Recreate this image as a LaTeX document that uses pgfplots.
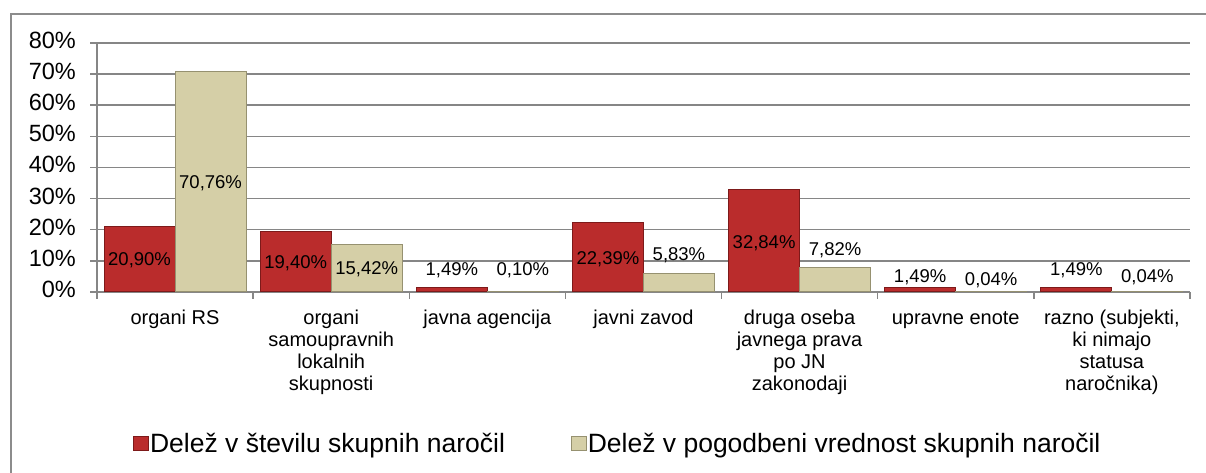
\documentclass[border=0pt]{standalone}
\usepackage{pgfplots}
\pgfplotsset{compat=1.18}
\usepackage{fontspec}
\setmainfont{Liberation Sans}
\definecolor{gridgray}{RGB}{134,134,134}
\definecolor{barred}{RGB}{186,44,44}
\definecolor{barreddark}{RGB}{125,26,26}
\definecolor{barbeige}{RGB}{213,207,167}
\definecolor{barbeigedark}{RGB}{150,145,112}
\definecolor{bordergray}{RGB}{140,140,140}
\pgfplotsset{sqlegend/.style={legend image code/.code={\draw[##1,line width=0.8pt] (0pt,-7pt) rectangle (15pt,7pt);}}}
\begin{document}
\begin{tikzpicture}
\useasboundingbox (0,0) rectangle (1206pt,473pt);
\draw[bordergray, line width=1.5pt] (11pt,0) -- (11pt,459pt) -- (1206pt,459pt);
\begin{axis}[
  at={(97pt,181pt)}, anchor=south west,
  scale only axis, width=1093pt, height=249pt,
  xmin=-0.5, xmax=6.5, ymin=0, ymax=80,
  ybar=0pt, bar width=71pt,
  axis x line*=bottom, axis y line*=left,
  axis line style={-, draw=gridgray, line width=1.5pt},
  ytick={0,10,...,80},
  yticklabels={0\%,10\%,20\%,30\%,40\%,50\%,60\%,70\%,80\%},
  ymajorgrids, grid style={gridgray, line width=1.5pt},
  tick style={gridgray, line width=1.5pt},
  tick align=outside, major tick length=7pt,
  xtick={-0.5,0.5,...,6.5},
  x tick label as interval,
  xticklabels={organi RS,{organi\\samoupravnih\\lokalnih\\skupnosti},javna agencija,javni zavod,{druga oseba\\javnega prava\\po JN\\zakonodaji},upravne enote,{razno (subjekti,\\ki nimajo\\statusa\\naročnika)}},
  typeset ticklabels with strut,
  xticklabel style={font=\fontsize{20}{22}\selectfont, align=center, anchor=north, inner sep=0pt, yshift=-10pt},
  yticklabel style={font=\fontsize{23.5}{27}\selectfont, anchor=east, inner sep=0pt, xshift=-14pt},
  legend columns=2,
  legend cell align=left,
  legend style={draw=none, fill=none, at={(0.033,-0.61)}, anchor=west,
    font=\fontsize{26.5}{31}\selectfont, inner sep=0pt,
    nodes={inner sep=1pt},
    /tikz/every even column/.append style={column sep=65pt}},
]
\addplot[fill=barred, draw=barreddark, line width=1pt, sqlegend] coordinates {(0,20.90) (1,19.40) (2,1.49) (3,22.39) (4,32.84) (5,1.49) (6,1.49)};
\addplot[fill=barbeige, draw=barbeigedark, line width=1pt, sqlegend] coordinates {(0,70.76) (1,15.42) (2,0.10) (3,5.83) (4,7.82) (5,0.04) (6,0.04)};
\legend{Delež v številu skupnih naročil, Delež v pogodbeni vrednost skupnih naročil}
\begin{scope}[every node/.style={font=\fontsize{18.5}{21}\selectfont}]
\node[xshift=-35.5pt] at (axis cs:0,10.3) {20,90\%};
\node[xshift=35.5pt] at (axis cs:0,35.0) {70,76\%};
\node[xshift=-35.5pt] at (axis cs:1,9.3) {19,40\%};
\node[xshift=35.5pt] at (axis cs:1,7.4) {15,42\%};
\node[xshift=-35.5pt] at (axis cs:2,7.1) {1,49\%};
\node[xshift=35.5pt] at (axis cs:2,7.1) {0,10\%};
\node[xshift=-35.5pt] at (axis cs:3,10.6) {22,39\%};
\node[xshift=35.5pt] at (axis cs:3,11.9) {5,83\%};
\node[xshift=-35.5pt] at (axis cs:4,15.7) {32,84\%};
\node[xshift=35.5pt] at (axis cs:4,13.5) {7,82\%};
\node[xshift=-35.5pt] at (axis cs:5,4.6) {1,49\%};
\node[xshift=35.5pt] at (axis cs:5,3.9) {0,04\%};
\node[xshift=-35.5pt] at (axis cs:6,6.9) {1,49\%};
\node[xshift=35.5pt] at (axis cs:6,4.8) {0,04\%};
\end{scope}
\end{axis}
\end{tikzpicture}
\end{document}
